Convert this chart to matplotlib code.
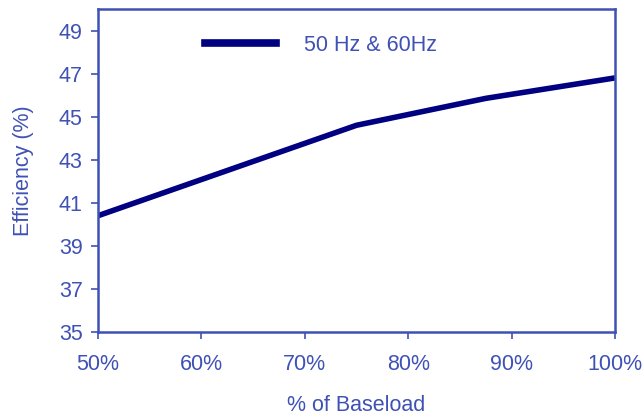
import matplotlib.pyplot as plt
from matplotlib.lines import Line2D

plt.rcParams['font.family'] = ['Liberation Sans', 'DejaVu Sans']

load = [50, 62.5, 75, 87.5, 100]
eff = [40.4, 42.5, 44.6, 45.85, 46.8]
xticks = [50, 60, 70, 80, 90, 100]
yticks = [35, 37, 39, 41, 43, 45, 47, 49]

txt = '#3f51b5'
navy = '#000080'

fig = plt.figure(figsize=(6.43, 4.15), dpi=100)
ax = fig.add_axes([98/643, 1 - 332/415, (615-98)/643, (332-9)/415])

ax.plot(load, eff, color=navy, lw=4, solid_capstyle='butt')

ax.set_xlim(50, 100)
ax.set_ylim(35, 50)
ax.set_xticks(xticks)
ax.set_xticklabels([f'{v}%' for v in xticks])
ax.set_yticks(yticks)

for s in ax.spines.values():
    s.set_color(txt)
    s.set_linewidth(1.8)
ax.tick_params(colors=txt, labelsize=15.5, width=1.2, length=5, direction='out')
ax.tick_params(axis='x', pad=11)
ax.tick_params(axis='y', pad=6)

ax.set_ylabel('Efficiency (%)', color=txt, fontsize=15.5, labelpad=18)
ax.set_xlabel('% of Baseload', color=txt, fontsize=15.5, labelpad=14)

h = Line2D([0], [0], color=navy, lw=5.5)
ax.legend([h], ['50 Hz & 60Hz'], loc='upper left', bbox_to_anchor=(0.17, 0.98),
          frameon=False, fontsize=15.5, labelcolor=txt, handlelength=3.3, handletextpad=1.3)

fig.savefig('out.png', dpi=100)
